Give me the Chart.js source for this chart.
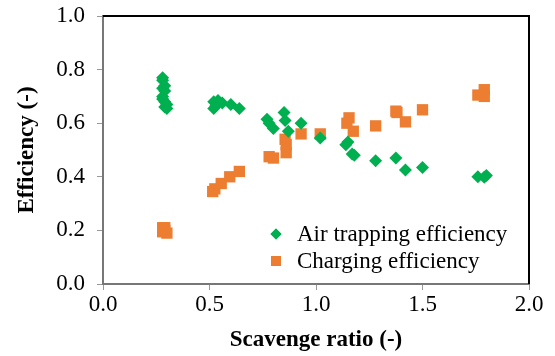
<!DOCTYPE html>
<html>
<head>
<meta charset="utf-8">
<script src="https://cdn.jsdelivr.net/npm/chart.js@4.4.1/dist/chart.umd.min.js"></script>
<style>
    html, body { margin: 0; padding: 0; background: #fff; }
    #wrap { width: 555px; height: 356px; }
</style>
</head>
<body>
<div id="wrap"><canvas id="chart"></canvas></div>
<script>
// Air trapping efficiency (green diamonds)
const airX = [0.28, 0.28, 0.29, 0.28, 0.29, 0.28, 0.28, 0.29, 0.30, 0.29, 0.30,
    0.52, 0.53, 0.52, 0.54, 0.56, 0.60, 0.64,
    0.77, 0.78, 0.80, 0.85, 0.855, 0.87, 0.93, 1.02,
    1.14, 1.15, 1.17, 1.18, 1.28, 1.375, 1.42, 1.50, 1.76, 1.79, 1.80];
const airY = [0.77, 0.76, 0.74, 0.73, 0.72, 0.70, 0.69, 0.68, 0.67, 0.66, 0.655,
    0.68, 0.665, 0.655, 0.685, 0.675, 0.67, 0.655,
    0.615, 0.60, 0.58, 0.64, 0.61, 0.57, 0.60, 0.545,
    0.52, 0.53, 0.485, 0.48, 0.46, 0.47, 0.425, 0.435, 0.40, 0.398, 0.405];

// Charging efficiency (orange squares)
const chargeX = [0.28, 0.29, 0.30, 0.28, 0.29,
    0.515, 0.525, 0.555, 0.595, 0.64,
    0.78, 0.80, 0.855, 0.86, 0.86, 0.93, 1.02,
    1.145, 1.155, 1.175, 1.28, 1.375, 1.38, 1.42, 1.50, 1.76, 1.79, 1.79];
const chargeY = [0.21, 0.20, 0.19, 0.195, 0.21,
    0.345, 0.355, 0.375, 0.40, 0.42,
    0.475, 0.47, 0.54, 0.52, 0.49, 0.56, 0.56,
    0.60, 0.62, 0.57, 0.59, 0.645, 0.64, 0.605, 0.65, 0.705, 0.725, 0.70];

const xTicks = [0, 0.5, 1.0, 1.5, 2.0];
const yTicks = [0, 0.2, 0.4, 0.6, 0.8, 1.0];

const toPoints = (xs, ys) => xs.map((x, i) => ({ x: x, y: ys[i] }));

const FONT = "'Liberation Serif', 'Times New Roman', serif";

// frame: grey left/bottom axes, black top/right
const framePlugin = {
    id: "frame",
    afterDraw(chart) {
        const { ctx, chartArea: a } = chart;
        ctx.save();
        ctx.lineWidth = 2;
        ctx.strokeStyle = "#000";
        ctx.beginPath();
        ctx.moveTo(a.left, a.top);
        ctx.lineTo(a.right, a.top);
        ctx.lineTo(a.right, a.bottom);
        ctx.stroke();
        ctx.restore();
    },
};

// legend inside the plot, lower right
const innerLegend = {
    id: "innerLegend",
    afterDraw(chart) {
        const { ctx } = chart;
        const rows = [234, 261];
        ctx.save();
        ctx.font = "23px " + FONT;
        ctx.textBaseline = "middle";
        chart.data.datasets.forEach((ds, i) => {
            const y = rows[i];
            ctx.fillStyle = ds.backgroundColor;
            Chart.helpers.drawPoint(ctx, {
                pointStyle: ds.pointStyle,
                radius: ds.pointStyle === "rect" ? 7 : 5.5,
                borderWidth: 0,
            }, 276, y);
            ctx.fill();
            ctx.fillStyle = "#000";
            ctx.fillText(ds.label, 297, y + 1);
        });
        ctx.restore();
    },
};

new Chart(document.getElementById("chart"), {
    type: "scatter",
    data: {
        datasets: [
            {
                label: "Air trapping efficiency",
                data: toPoints(airX, airY),
                pointStyle: "rectRot",
                pointRadius: 6.5,
                backgroundColor: "#00B050",
                borderColor: "#00B050",
                borderWidth: 0,
            },
            {
                label: "Charging efficiency",
                data: toPoints(chargeX, chargeY),
                pointStyle: "rect",
                pointRadius: 8,
                backgroundColor: "#ED7D31",
                borderColor: "#ED7D31",
                borderWidth: 0,
            },
        ],
    },
    options: {
        responsive: true,
        maintainAspectRatio: false,
        animation: false,
        layout: { padding: { top: 16, right: 26, left: 0, bottom: 0 } },
        plugins: {
            legend: { display: false },
            tooltip: { enabled: false },
        },
        scales: {
            x: {
                type: "linear",
                min: 0,
                max: 2,
                afterBuildTicks: (axis) => {
                    axis.ticks = xTicks.map((v) => ({ value: v }));
                },
                afterFit: (axis) => {
                    axis.height = 72;
                    axis.paddingLeft = 0;
                    axis.paddingRight = 0;
                },
                border: { color: "#777", width: 2 },
                grid: {
                    drawOnChartArea: false,
                    color: "#999",
                    tickLength: 6,
                },
                ticks: {
                    color: "#000",
                    font: { family: FONT, size: 23, lineHeight: 1.2 },
                    padding: 1,
                    maxRotation: 0,
                    callback: (v) => v.toFixed(1),
                },
                title: {
                    display: true,
                    text: "Scavenge ratio (-)",
                    color: "#000",
                    font: { family: FONT, size: 23, weight: "bold", lineHeight: 1.2 },
                    padding: { top: 0, bottom: 2 },
                },
            },
            y: {
                min: 0,
                max: 1,
                afterBuildTicks: (axis) => {
                    axis.ticks = yTicks.map((v) => ({ value: v }));
                },
                afterFit: (axis) => {
                    axis.width = 103;
                    axis.paddingTop = 0;
                    axis.paddingBottom = 0;
                },
                border: { color: "#777", width: 2 },
                grid: {
                    drawOnChartArea: false,
                    color: "#999",
                    tickLength: 6,
                },
                ticks: {
                    color: "#000",
                    font: { family: FONT, size: 23, lineHeight: 1.2 },
                    padding: 12,
                    callback: (v) => v.toFixed(1),
                },
                title: {
                    display: true,
                    text: "Efficiency (-)",
                    color: "#000",
                    font: { family: FONT, size: 23, weight: "bold", lineHeight: 1.2 },
                    padding: { top: 13, bottom: 0 },
                },
            },
        },
    },
    plugins: [framePlugin, innerLegend],
});
</script>
</body>
</html>
